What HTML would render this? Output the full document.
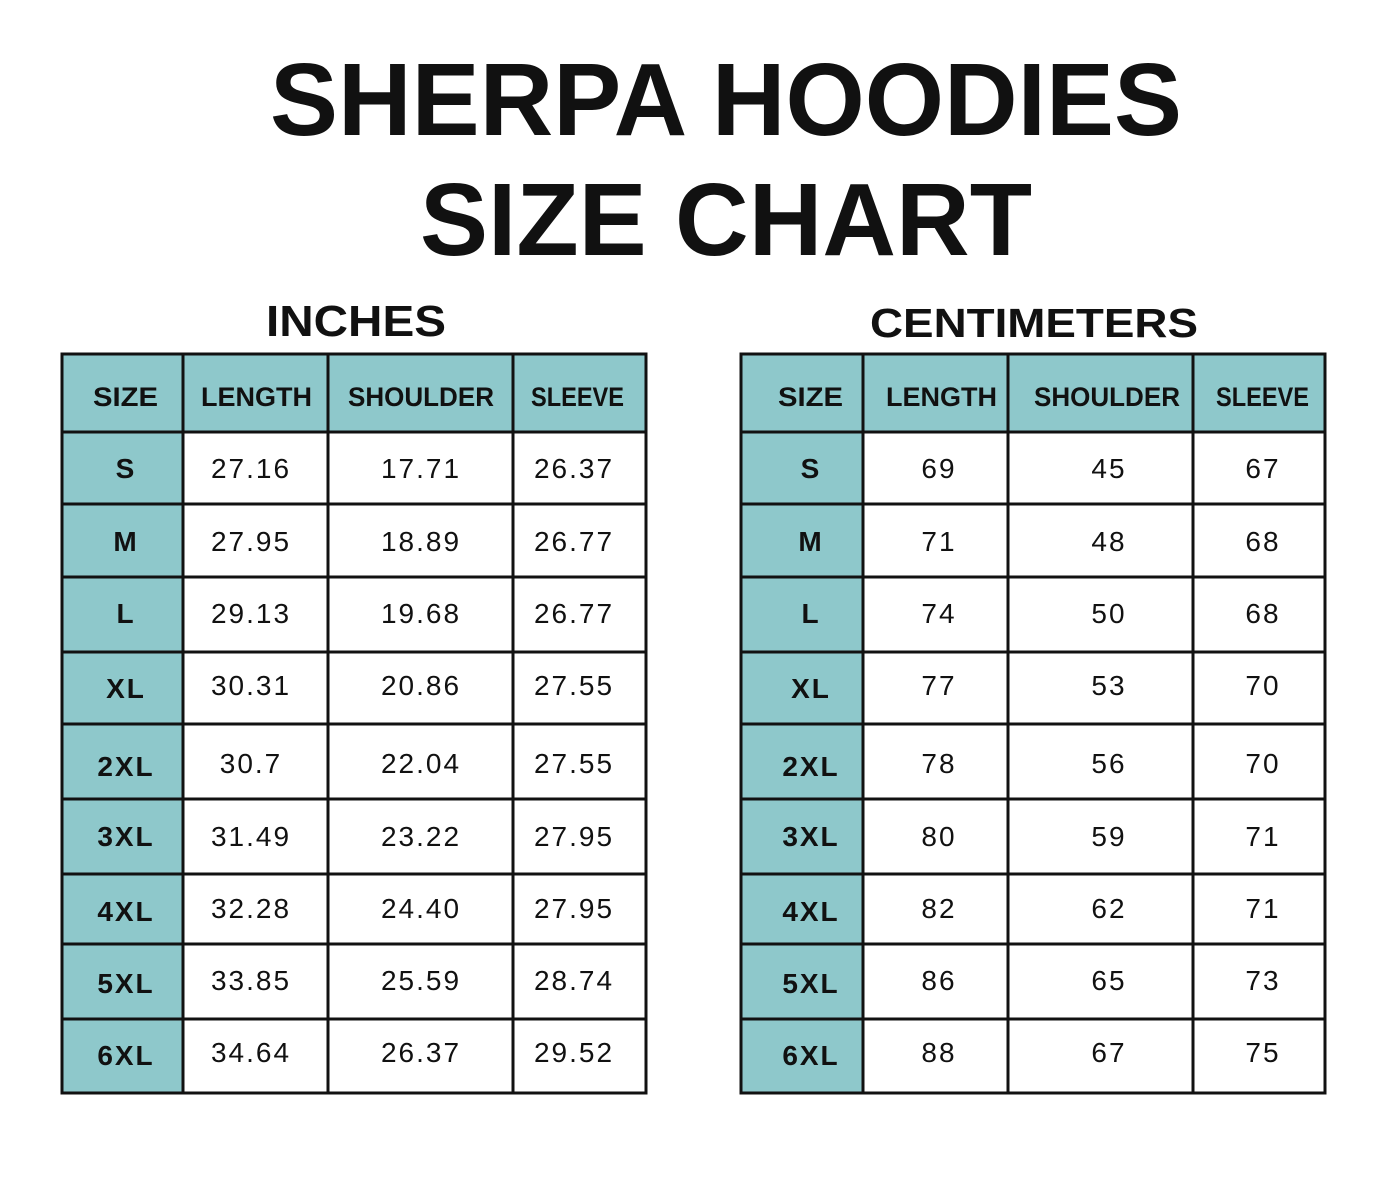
<!DOCTYPE html>
<html><head><meta charset="utf-8"><style>
html,body{margin:0;padding:0;background:#fff}
svg{display:block}
text{font-family:"Liberation Sans",Arial,sans-serif;fill:#111}
.t{font-weight:bold;font-size:103px}
.u{font-weight:bold;font-size:44px}
.h{font-weight:bold;font-size:27px}
.s{font-weight:bold;font-size:28px;letter-spacing:2px}
.d{font-size:28px;letter-spacing:2px}
</style></head><body>
<svg width="1388" height="1200" viewBox="0 0 1388 1200" xmlns="http://www.w3.org/2000/svg">
<text class="t" x="270" y="135" textLength="912" lengthAdjust="spacingAndGlyphs">SHERPA HOODIES</text>
<text class="t" x="420" y="255" textLength="612" lengthAdjust="spacingAndGlyphs">SIZE CHART</text>
<text class="u" x="266" y="336" textLength="180" lengthAdjust="spacingAndGlyphs">INCHES</text>
<text class="u" x="870" y="337" textLength="328" lengthAdjust="spacingAndGlyphs" style="font-size:41px">CENTIMETERS</text>

<rect x="61" y="353" width="586" height="79" fill="#8ec8cb"/>
<rect x="61" y="432" width="122" height="662" fill="#8ec8cb"/>
<g stroke="#111" stroke-width="3" fill="none">
<rect x="62" y="354" width="584" height="739"/>
<line x1="183" y1="353" x2="183" y2="1094"/><line x1="328" y1="353" x2="328" y2="1094"/><line x1="513" y1="353" x2="513" y2="1094"/>
<line x1="61" y1="432" x2="647" y2="432"/><line x1="61" y1="504" x2="647" y2="504"/><line x1="61" y1="577" x2="647" y2="577"/><line x1="61" y1="652" x2="647" y2="652"/><line x1="61" y1="724" x2="647" y2="724"/><line x1="61" y1="799" x2="647" y2="799"/><line x1="61" y1="874" x2="647" y2="874"/><line x1="61" y1="944" x2="647" y2="944"/><line x1="61" y1="1019" x2="647" y2="1019"/>
</g>
<rect x="740" y="353" width="586" height="79" fill="#8ec8cb"/>
<rect x="740" y="432" width="123" height="662" fill="#8ec8cb"/>
<g stroke="#111" stroke-width="3" fill="none">
<rect x="741" y="354" width="584" height="739"/>
<line x1="863" y1="353" x2="863" y2="1094"/><line x1="1008" y1="353" x2="1008" y2="1094"/><line x1="1193" y1="353" x2="1193" y2="1094"/>
<line x1="740" y1="432" x2="1326" y2="432"/><line x1="740" y1="504" x2="1326" y2="504"/><line x1="740" y1="577" x2="1326" y2="577"/><line x1="740" y1="652" x2="1326" y2="652"/><line x1="740" y1="724" x2="1326" y2="724"/><line x1="740" y1="799" x2="1326" y2="799"/><line x1="740" y1="874" x2="1326" y2="874"/><line x1="740" y1="944" x2="1326" y2="944"/><line x1="740" y1="1019" x2="1326" y2="1019"/>
</g>

<text class="h" x="93" y="406" textLength="65" lengthAdjust="spacingAndGlyphs">SIZE</text>
<text class="h" x="201" y="406" textLength="111" lengthAdjust="spacingAndGlyphs">LENGTH</text>
<text class="h" x="348" y="406" textLength="146" lengthAdjust="spacingAndGlyphs">SHOULDER</text>
<text class="h" x="531" y="406" textLength="93" lengthAdjust="spacingAndGlyphs">SLEEVE</text>
<text class="h" x="778" y="406" textLength="65" lengthAdjust="spacingAndGlyphs">SIZE</text>
<text class="h" x="886" y="406" textLength="111" lengthAdjust="spacingAndGlyphs">LENGTH</text>
<text class="h" x="1034" y="406" textLength="146" lengthAdjust="spacingAndGlyphs">SHOULDER</text>
<text class="h" x="1216" y="406" textLength="93" lengthAdjust="spacingAndGlyphs">SLEEVE</text>

<g text-anchor="middle">
<text class="s" x="126" y="478">S</text><text class="s" x="126" y="551">M</text><text class="s" x="126" y="623">L</text><text class="s" x="126" y="698">XL</text><text class="s" x="126" y="776">2XL</text><text class="s" x="126" y="846">3XL</text><text class="s" x="126" y="921">4XL</text><text class="s" x="126" y="993">5XL</text><text class="s" x="126" y="1065">6XL</text>
<text class="s" x="811" y="478">S</text><text class="s" x="811" y="551">M</text><text class="s" x="811" y="623">L</text><text class="s" x="811" y="698">XL</text><text class="s" x="811" y="776">2XL</text><text class="s" x="811" y="846">3XL</text><text class="s" x="811" y="921">4XL</text><text class="s" x="811" y="993">5XL</text><text class="s" x="811" y="1065">6XL</text>

<text class="d" x="251" y="478">27.16</text><text class="d" x="421" y="478">17.71</text><text class="d" x="574" y="478">26.37</text>
<text class="d" x="251" y="551">27.95</text><text class="d" x="421" y="551">18.89</text><text class="d" x="574" y="551">26.77</text>
<text class="d" x="251" y="623">29.13</text><text class="d" x="421" y="623">19.68</text><text class="d" x="574" y="623">26.77</text>
<text class="d" x="251" y="695">30.31</text><text class="d" x="421" y="695">20.86</text><text class="d" x="574" y="695">27.55</text>
<text class="d" x="251" y="773">30.7</text><text class="d" x="421" y="773">22.04</text><text class="d" x="574" y="773">27.55</text>
<text class="d" x="251" y="846">31.49</text><text class="d" x="421" y="846">23.22</text><text class="d" x="574" y="846">27.95</text>
<text class="d" x="251" y="918">32.28</text><text class="d" x="421" y="918">24.40</text><text class="d" x="574" y="918">27.95</text>
<text class="d" x="251" y="990">33.85</text><text class="d" x="421" y="990">25.59</text><text class="d" x="574" y="990">28.74</text>
<text class="d" x="251" y="1062">34.64</text><text class="d" x="421" y="1062">26.37</text><text class="d" x="574" y="1062">29.52</text>

<text class="d" x="939" y="478">69</text><text class="d" x="1109" y="478">45</text><text class="d" x="1263" y="478">67</text>
<text class="d" x="939" y="551">71</text><text class="d" x="1109" y="551">48</text><text class="d" x="1263" y="551">68</text>
<text class="d" x="939" y="623">74</text><text class="d" x="1109" y="623">50</text><text class="d" x="1263" y="623">68</text>
<text class="d" x="939" y="695">77</text><text class="d" x="1109" y="695">53</text><text class="d" x="1263" y="695">70</text>
<text class="d" x="939" y="773">78</text><text class="d" x="1109" y="773">56</text><text class="d" x="1263" y="773">70</text>
<text class="d" x="939" y="846">80</text><text class="d" x="1109" y="846">59</text><text class="d" x="1263" y="846">71</text>
<text class="d" x="939" y="918">82</text><text class="d" x="1109" y="918">62</text><text class="d" x="1263" y="918">71</text>
<text class="d" x="939" y="990">86</text><text class="d" x="1109" y="990">65</text><text class="d" x="1263" y="990">73</text>
<text class="d" x="939" y="1062">88</text><text class="d" x="1109" y="1062">67</text><text class="d" x="1263" y="1062">75</text>
</g>
</svg>
</body></html>
